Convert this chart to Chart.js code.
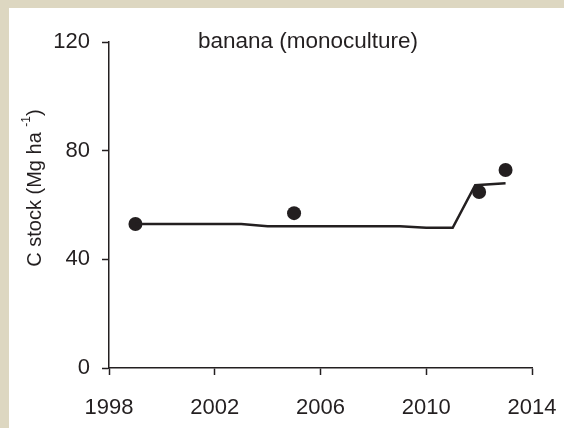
<!DOCTYPE html>
<html>
<head>
<meta charset="utf-8">
<script src="https://cdn.jsdelivr.net/npm/chart.js@4/dist/chart.umd.min.js"></script>
<style>
  html, body { margin: 0; padding: 0; }
  body { width: 564px; height: 428px; background: #ddd7c1; position: relative; overflow: hidden; }
  #panel { position: absolute; left: 9px; top: 8px; width: 555px; height: 420px; background: #fff; }
</style>
</head>
<body>
<div id="panel"><canvas id="chart" width="555" height="420"></canvas></div>
<script>
// Modelled C stock (line)
const modelYears = [1999, 2003, 2004, 2009, 2010, 2011, 2011.85, 2013];
const modelStock = [53, 53, 52.2, 52.2, 51.6, 51.6, 67.3, 68];

// Measured C stock (dots)
const obsYears = [1999, 2005, 2012, 2013];
const obsStock = [53, 57, 64.8, 72.9];

const xTicks = [1998, 2002, 2006, 2010, 2014];
const yTicks = [0, 40, 80, 120];

const ink = '#231f20';
const fontFamily = '"Liberation Sans", Arial, sans-serif';

// titre dans la zone du graphique + label de l'axe y avec exposant
const labelsPlugin = {
    id: 'labels',
    afterDraw(chart) {
        const ctx = chart.ctx;
        ctx.save();
        ctx.fillStyle = ink;
        ctx.font = '22.5px ' + fontFamily;
        ctx.textAlign = 'center';
        ctx.textBaseline = 'middle';
        ctx.fillText('banana (monoculture)', 299, 34);

        // y label
        ctx.translate(26, 180);
        ctx.rotate(-Math.PI / 2);
        const big = '20px ' + fontFamily;
        const small = '12px ' + fontFamily;
        const parts = [['C stock (Mg ha ', big, 0], ['-1', small, -8], [')', big, 0]];
        let total = 0;
        parts.forEach(p => { ctx.font = p[1]; total += ctx.measureText(p[0]).width; });
        let x = -total / 2;
        ctx.textAlign = 'left';
        parts.forEach(p => {
            ctx.font = p[1];
            ctx.fillText(p[0], x, p[2]);
            x += ctx.measureText(p[0]).width;
        });
        ctx.restore();
    }
};

const ctx = document.getElementById('chart').getContext('2d');
const cStockChart = new Chart(ctx, {
    type: 'scatter',
    data: {
        datasets: [
            {
                label: 'model',
                data: modelYears.map((y, i) => ({ x: y, y: modelStock[i] })),
                showLine: true,
                borderColor: ink,
                borderWidth: 2.5,
                pointRadius: 0,
                tension: 0,
                fill: false
            },
            {
                label: 'measured',
                data: obsYears.map((y, i) => ({ x: y, y: obsStock[i] })),
                showLine: false,
                backgroundColor: ink,
                borderColor: ink,
                pointRadius: 7,
                pointBorderWidth: 0
            }
        ]
    },
    options: {
        responsive: false,
        animation: false,
        devicePixelRatio: 1,
        layout: { padding: { left: 0, right: 32, top: 34, bottom: 0 } },
        plugins: {
            legend: { display: false },
            tooltip: { enabled: false },
            title: { display: false }
        },
        scales: {
            x: {
                type: 'linear',
                min: xTicks[0],
                max: xTicks[xTicks.length - 1],
                afterBuildTicks: scale => { scale.ticks = xTicks.map(v => ({ value: v })); },
                afterFit: scale => {
                    scale.height = 60;
                    scale.paddingLeft = 0;
                    scale.paddingRight = 0;
                },
                ticks: {
                    color: ink,
                    font: { family: fontFamily, size: 22 },
                    padding: 20,
                    maxRotation: 0,
                    callback: v => String(v)
                },
                grid: { drawOnChartArea: false, tickLength: 7, tickColor: ink, tickWidth: 1.5 },
                border: { display: true, color: ink, width: 1.5 }
            },
            y: {
                min: yTicks[0],
                max: yTicks[yTicks.length - 1],
                afterBuildTicks: scale => { scale.ticks = yTicks.map(v => ({ value: v })); },
                afterFit: scale => {
                    scale.width = 100;
                    scale.paddingTop = 0;
                    scale.paddingBottom = 0;
                },
                ticks: {
                    color: ink,
                    font: { family: fontFamily, size: 22 },
                    padding: 12,
                    callback: v => String(v)
                },
                grid: { drawOnChartArea: false, tickLength: 7, tickColor: ink, tickWidth: 1.5 },
                border: { display: true, color: ink, width: 1.5 }
            }
        }
    },
    plugins: [labelsPlugin]
});
</script>
</body>
</html>
